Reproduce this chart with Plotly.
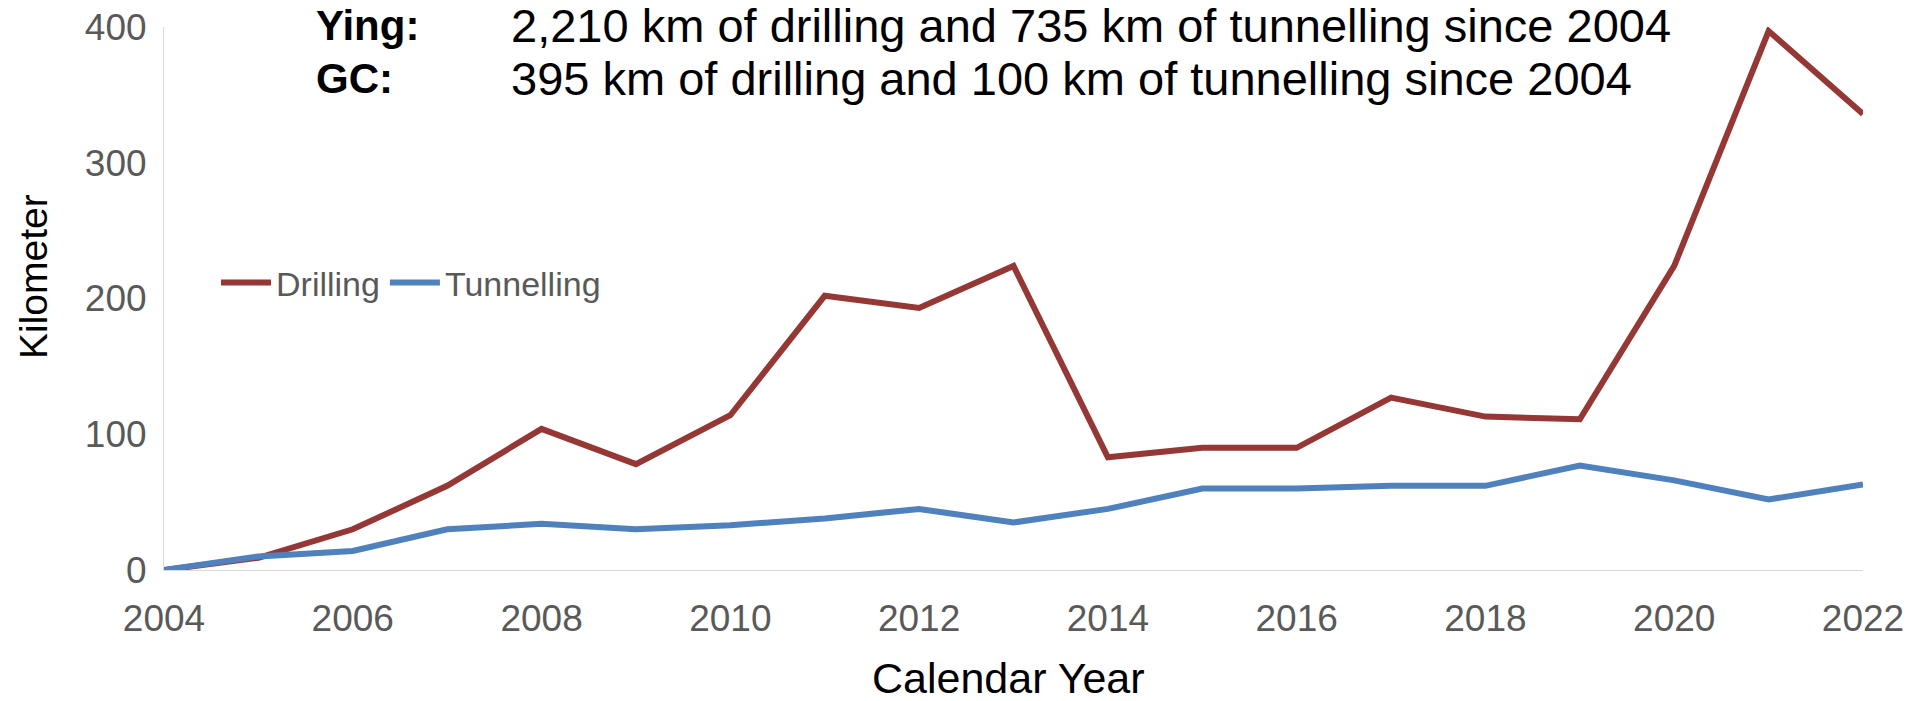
import plotly.graph_objects as go

years = list(range(2004, 2023))
drilling = [0, 9, 30, 62, 104, 78, 114, 202, 193, 224, 83, 90, 90, 127, 113, 111, 224, 397, 336]
tunnelling = [0, 10, 14, 30, 34, 30, 33, 38, 45, 35, 45, 60, 60, 62, 62, 77, 66, 52, 63]

y_ticks = [0, 100, 200, 300, 400]
x_ticks = list(range(2004, 2023, 2))

labels = ["Ying:", "GC:"]
notes = ["2,210 km of drilling and 735 km of tunnelling since 2004",
         "395 km of drilling and 100 km of tunnelling since 2004"]

W, H = 1909, 701
L, R, T, B = 164, 46, 27, 131
pw, ph = W - L - R, H - T - B

def px(x):
    return (x - L) / pw

def py(y):
    return (H - B - y) / ph

fig = go.Figure()
fig.add_trace(go.Scatter(x=years, y=drilling, name="Drilling", mode="lines",
                         line=dict(color="#953735", width=6)))
fig.add_trace(go.Scatter(x=years, y=tunnelling, name="Tunnelling", mode="lines",
                         line=dict(color="#4F81BD", width=6)))

font_main = "Liberation Sans, Arial, sans-serif"

annotations = []
for i, (lab, note) in enumerate(zip(labels, notes)):
    yc = 26 + 53 * i
    annotations.append(dict(text="<b>" + lab + "</b>", xref="paper", yref="paper",
                            x=px(314), y=py(yc), xanchor="left", yanchor="middle",
                            showarrow=False, font=dict(size=42, color="#000000", family=font_main)))
    annotations.append(dict(text=note, xref="paper", yref="paper",
                            x=px(509), y=py(yc), xanchor="left", yanchor="middle",
                            showarrow=False, font=dict(size=47, color="#000000", family=font_main)))

annotations.append(dict(text="Calendar Year", xref="paper", yref="paper",
                        x=px(1008), y=py(678), xanchor="center", yanchor="middle",
                        showarrow=False, font=dict(size=43, color="#000000", family=font_main)))
annotations.append(dict(text="Kilometer", xref="paper", yref="paper", textangle=-90,
                        x=px(33), y=py(277), xanchor="center", yanchor="middle",
                        showarrow=False, font=dict(size=39, color="#000000", family=font_main)))

fig.update_layout(
    width=W, height=H,
    margin=dict(l=L, r=R, t=T, b=B, pad=0, autoexpand=False),
    paper_bgcolor="white", plot_bgcolor="white",
    font=dict(family=font_main, color="#595959"),
    showlegend=True,
    legend=dict(orientation="h", x=px(216), y=py(283), xanchor="left", yanchor="middle",
                bgcolor="rgba(0,0,0,0)", font=dict(size=34, color="#595959"),
                itemwidth=50, tracegroupgap=0),
    annotations=annotations,
    xaxis=dict(range=[2004, 2022], tickvals=x_ticks, ticktext=[str(v) for v in x_ticks],
               showgrid=False, zeroline=False, showline=True, linecolor="#d9d9d9", linewidth=1,
               ticks="", tickfont=dict(size=37, color="#595959"), ticklabelstandoff=16,
               automargin=False),
    yaxis=dict(range=[0, 400], tickvals=y_ticks, showgrid=False, zeroline=False,
               showline=True, linecolor="#d9d9d9", linewidth=1,
               ticks="", tickfont=dict(size=37, color="#595959"), ticklabelstandoff=9,
               automargin=False),
)

fig.write_html("out.html", config={"displayModeBar": False},
               post_script="document.body.style.margin='0';")
